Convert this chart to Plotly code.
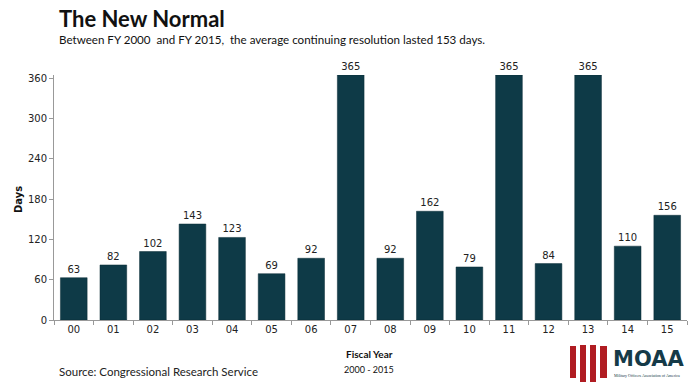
import plotly.graph_objects as go

years = ["00", "01", "02", "03", "04", "05", "06", "07", "08", "09", "10", "11", "12", "13", "14", "15"]
days = [63, 82, 102, 143, 123, 69, 92, 365, 92, 162, 79, 365, 84, 365, 110, 156]
y_ticks = [0, 60, 120, 180, 240, 300, 360]

W, H = 700, 382
L, R, T, B = 54, 13, 75, 62
pw, ph = W - L - R, H - T - B


def px(x):
    return (x - L) / pw


def py(y):
    return (H - B - y) / ph


fig = go.Figure()
fig.add_trace(go.Bar(
    x=years, y=days,
    marker=dict(color="#0e3a47", line=dict(color="#0a2d37", width=0.5)),
    text=[str(d) for d in days], textposition="outside",
    textfont=dict(family="DejaVu Sans", size=10, color="#222"),
    cliponaxis=False, width=0.675, hoverinfo="x+y",
))

font_main = "Lato"
ann = []
ann.append(dict(x=px(57), y=py(18), xref="paper", yref="paper", text="<b>The New Normal</b>",
                showarrow=False, xanchor="left", yanchor="middle",
                font=dict(family=font_main, size=22, color="#111")))
ann.append(dict(x=px(57), y=py(39), xref="paper", yref="paper",
                text="Between FY 2000  and FY 2015,  the average continuing resolution lasted 153 days.",
                showarrow=False, xanchor="left", yanchor="middle",
                font=dict(family=font_main, size=11.6, color="#111")))
ann.append(dict(x=px(18), y=py(200), xref="paper", yref="paper", text="<b>Days</b>",
                showarrow=False, textangle=-90, xanchor="center", yanchor="middle",
                font=dict(family="DejaVu Sans", size=10, color="#111")))
ann.append(dict(x=px(369), y=py(354), xref="paper", yref="paper", text="<b>Fiscal Year</b>",
                showarrow=False, xanchor="center", yanchor="middle",
                font=dict(family=font_main, size=10, color="#111")))
ann.append(dict(x=px(369), y=py(369), xref="paper", yref="paper", text="2000 - 2015",
                showarrow=False, xanchor="center", yanchor="middle",
                font=dict(family=font_main, size=9, color="#111")))
ann.append(dict(x=px(57), y=py(372), xref="paper", yref="paper", text="Source: Congressional Research Service",
                showarrow=False, xanchor="left", yanchor="middle",
                font=dict(family=font_main, size=11.5, color="#222")))
ann.append(dict(x=px(611), y=py(359), xref="paper", yref="paper", text="<b>MOAA</b>",
                showarrow=False, xanchor="left", yanchor="middle",
                font=dict(family="DejaVu Sans", size=21, color="#153a48")))
ann.append(dict(x=px(612), y=py(375), xref="paper", yref="paper", text="Military Officers Association of America",
                showarrow=False, xanchor="left", yanchor="middle",
                font=dict(family="Liberation Sans Narrow", size=4, color="#153a48")))

shapes = []
for x0, x1, y0, y1 in [(570, 576, 346, 378), (580, 586, 345, 382), (590, 596, 345, 382), (600, 607, 346, 378)]:
    shapes.append(dict(type="rect", xref="paper", yref="paper",
                       x0=px(x0), x1=px(x1), y0=py(y1), y1=py(y0),
                       fillcolor="#b01c22", line=dict(width=0)))

fig.update_layout(
    width=W, height=H,
    margin=dict(l=L, r=R, t=T, b=B),
    paper_bgcolor="white", plot_bgcolor="white",
    showlegend=False,
    annotations=ann, shapes=shapes,
    xaxis=dict(type="category", showgrid=False, showline=True, linecolor="#999", linewidth=1,
               ticks="outside", tickson="boundaries", ticklen=4, tickcolor="#999",
               tickfont=dict(family="DejaVu Sans", size=10, color="#222")),
    yaxis=dict(range=[0, 365], tickvals=y_ticks, showgrid=False, zeroline=False,
               showline=True, linecolor="#999", linewidth=1,
               ticks="outside", ticklen=4, tickcolor="#999",
               tickfont=dict(family="DejaVu Sans", size=10, color="#222")),
)

fig.write_html("out.html", config={"displayModeBar": False})
with open("out.html", "r", encoding="utf-8") as f:
    html = f.read()
html = html.replace("<head>", "<head><style>html,body{margin:0;padding:0;overflow:hidden;}</style>", 1)
with open("out.html", "w", encoding="utf-8") as f:
    f.write(html)
